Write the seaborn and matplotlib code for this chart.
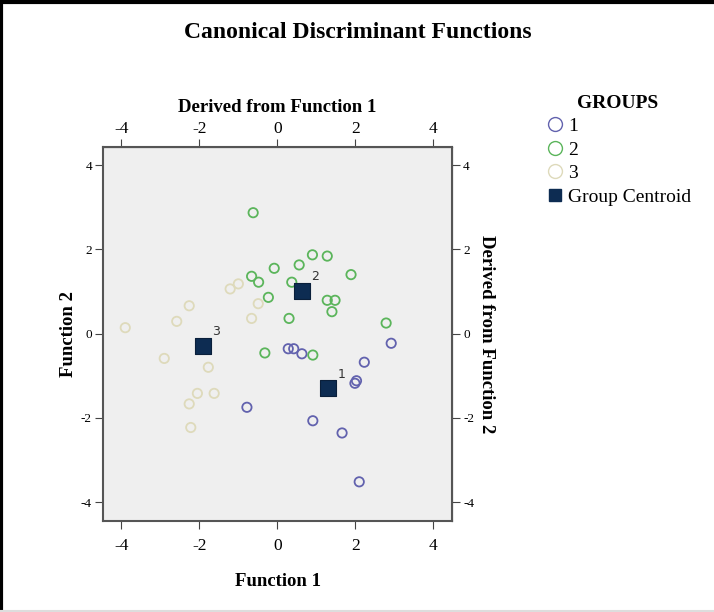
import seaborn as sns
import pandas as pd
import matplotlib.pyplot as plt
from matplotlib.lines import Line2D

# discriminant scores
g1_x = [0.28, 0.42, 0.63, 2.92, 2.23, 1.99, 2.03, -0.78, 0.91, 1.66, 2.10]
g1_y = [-0.36, -0.36, -0.48, -0.23, -0.68, -1.18, -1.12, -1.75, -2.07, -2.36, -3.52]
g2_x = [-0.62, 0.90, 1.28, 0.56, -0.08, -0.66, -0.48, 0.37, 1.89, -0.23, 1.28, 1.48, 1.40, 0.30, 2.79, -0.32, 0.91]
g2_y = [2.87, 1.87, 1.84, 1.63, 1.55, 1.36, 1.22, 1.22, 1.40, 0.86, 0.79, 0.79, 0.52, 0.36, 0.25, -0.46, -0.51]
g3_x = [-3.90, -2.58, -2.26, -1.21, -1.00, -0.49, -0.66, -2.90, -1.77, -2.05, -1.62, -2.26, -2.22]
g3_y = [0.14, 0.29, 0.66, 1.06, 1.18, 0.71, 0.36, -0.59, -0.80, -1.42, -1.42, -1.67, -2.23]
centroid_labels = ["1", "2", "3"]
centroid_x = [1.31, 0.63, -1.90]
centroid_y = [-1.30, 1.02, -0.30]
ticks = [-4, -2, 0, 2, 4]

groups = {"1": (g1_x, g1_y), "2": (g2_x, g2_y), "3": (g3_x, g3_y)}
colors = {"1": "#6262ae", "2": "#5bb55b", "3": "#dedabb"}
centroid_color = "#0d2c52"

plt.rcParams["font.family"] = ["Liberation Serif", "DejaVu Serif"]
plt.rcParams["axes.unicode_minus"] = False

fig = plt.figure(figsize=(7.14, 6.12), dpi=100)
ax = fig.add_axes([0.1443, 0.1487, 0.4888, 0.6111])
ax.set_facecolor("#efefef")

for g, (xs, ys) in groups.items():
    df = pd.DataFrame({"f1": xs, "f2": ys})
    sns.scatterplot(data=df, x="f1", y="f2", ax=ax, marker="o", s=45,
                    facecolor="none", edgecolor=colors[g], linewidth=1.3)

cent = pd.DataFrame({"f1": centroid_x, "f2": centroid_y, "lab": centroid_labels})
sns.scatterplot(data=cent, x="f1", y="f2", ax=ax, marker="s", s=135,
                color=centroid_color, edgecolor="#0a1f3a", linewidth=0.8)
for _, r in cent.iterrows():
    ax.text(r.f1 + 0.34, r.f2 + 0.34, r.lab, fontsize=9, color="#333333",
            family="DejaVu Sans", ha="center", va="center")

ax.set_xlim(-4.47, 4.48)
ax.set_ylim(-4.45, 4.43)
ax.set_xticks(ticks)
ax.set_yticks(ticks)
ax.tick_params(axis="x", labelsize=12.5, length=6, pad=6, color="#444444")
ax.tick_params(axis="y", labelsize=9.5, length=6, pad=2, color="#444444")
for s in ax.spines.values():
    s.set_color("#555555")
    s.set_linewidth(1.5)

ax.set_xlabel("Function 1", fontsize=13.5, fontweight="bold", labelpad=14)
ax.set_ylabel("Function 2", fontsize=13.5, fontweight="bold", labelpad=3)

top = ax.secondary_xaxis("top")
top.set_xticks(ticks)
top.tick_params(labelsize=12.5, length=6, pad=1, color="#444444")
top.set_xlabel("Derived from Function 1", fontsize=13.5, fontweight="bold", labelpad=7)

right = ax.secondary_yaxis("right")
right.set_yticks(ticks)
right.tick_params(labelsize=9.5, length=6, pad=2, color="#444444")
fig.text(0.681, 0.454, "Derived from Function 2", fontsize=13.5, fontweight="bold",
         rotation=270, ha="center", va="center")

fig.text(0.501, 0.947, "Canonical Discriminant Functions", ha="center", va="center",
         fontsize=17, fontweight="bold")

handles = [Line2D([], [], marker="o", linestyle="none", markersize=10,
                  markerfacecolor="none", markeredgecolor=colors[g], label=g)
           for g in groups]
handles.append(Line2D([], [], marker="s", linestyle="none", markersize=8,
                      color=centroid_color, label="Group Centroid"))
leg = fig.legend(handles=handles, title="GROUPS", loc="upper left",
                 bbox_to_anchor=(0.762, 0.845), frameon=False, fontsize=14,
                 handletextpad=0.15, labelspacing=0.3, handlelength=1.1,
                 borderaxespad=0, borderpad=0)
leg.get_title().set_fontweight("bold")
leg.get_title().set_fontsize(14)

# page frame: heavy black on left/top, faint line at the bottom
fig.add_artist(Line2D([0.002, 0.002], [0, 1], transform=fig.transFigure, color="black", linewidth=3))
fig.add_artist(Line2D([0, 1], [0.997, 0.997], transform=fig.transFigure, color="black", linewidth=3))
fig.add_artist(Line2D([0, 1], [0.002, 0.002], transform=fig.transFigure, color="#dddddd", linewidth=1.5))

fig.savefig("out.png", dpi=100)
